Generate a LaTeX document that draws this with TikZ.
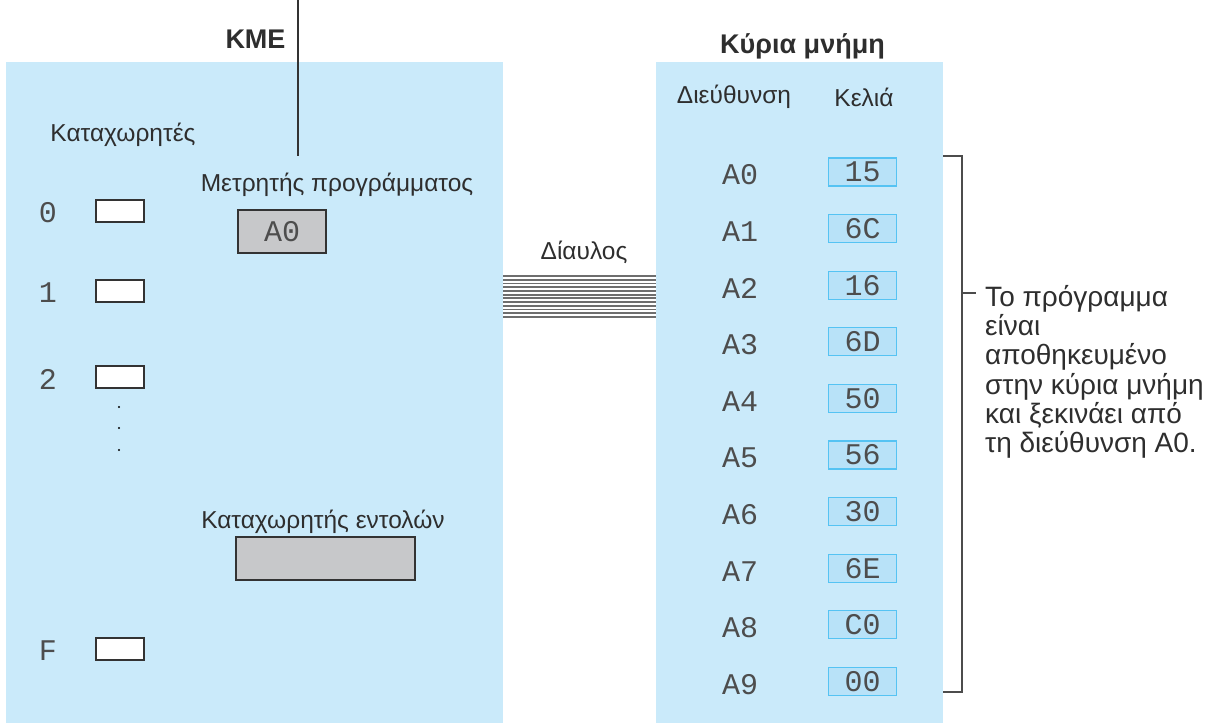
\documentclass[tikz,border=0pt]{standalone}
\usepackage{fontspec}
\setmainfont{Liberation Sans}
\newfontfamily\codefont{Liberation Mono}
\definecolor{panelblue}{HTML}{CAEAFA}
\definecolor{cellblue}{HTML}{B8E2F8}
\definecolor{cellline}{HTML}{55C3F3}
\definecolor{regfill}{HTML}{C7C8CA}
\definecolor{busgray}{HTML}{6E6E6E}
\definecolor{inkgray}{HTML}{2E2E2E}
\tikzset{
  panel/.style={fill=panelblue, draw=none, inner sep=0pt, anchor=north west},
  regbox/.style={draw=black!80, line width=1.6pt, fill=white, minimum width=48pt, minimum height=22pt, inner sep=0pt},
  grayreg/.style={draw=black!80, line width=1.6pt, fill=regfill, inner sep=0pt, text=inkgray!85},
  cell/.style={draw=cellline, line width=1.3pt, fill=cellblue, minimum width=68pt, minimum height=28pt, inner sep=0pt, text=inkgray!85, font=\codefont\fontsize{30}{30}\selectfont},
  lbl/.style={font=\fontsize{24.5}{28}\selectfont, inner sep=0pt, text=inkgray},
  heading/.style={font=\bfseries\fontsize{27}{30}\selectfont, inner sep=0pt, anchor=base, text=inkgray},
  mono/.style={font=\codefont\fontsize{30}{30}\selectfont, inner sep=0pt, text=inkgray!85},
  bracket/.style={draw=black!70, line width=1.6pt}
}
\begin{document}
\begin{tikzpicture}[x=1pt,y=-1pt]
\useasboundingbox (0,0) rectangle (1206,723);
% panels
\node[panel, minimum width=497pt, minimum height=661pt] (kme) at (6,62) {};
\node[panel, minimum width=287pt, minimum height=661pt] (mem) at (656,62) {};
\node[heading] (kmetitle) at (255.5,48) {KME};
\node[heading] (memtitle) at (802.5,53) {Κύρια μνήμη};
\coordinate (pctop) at (298,0);
\coordinate (pcbot) at (298,156);
\draw[line width=1.4pt, black!80] (pctop) -- (pcbot);

% registers
\node[lbl] (reglbl) at (123,135) {Καταχωρητές};
\foreach \r/\y in {0/211,1/291,2/377,F/649} {
  \node[mono] (rl\r) at (48,\y+2) {\r};
  \node[regbox] (reg\r) at (120,\y) {};
}
\foreach \y in {407,428,450}
  \fill (119,\y) circle (1.1pt);

\node[lbl] (pclbl) at (337,185) {Μετρητής προγράμματος};
\node[grayreg, minimum width=88pt, minimum height=43pt,
  font=\codefont\fontsize{30}{30}\selectfont] (pc) at (282,231.5) {A0};
\node[lbl] (irlbl) at (323,522) {Καταχωρητής εντολών};
\node[grayreg, minimum width=179pt, minimum height=43pt] (ir) at (325.5,558.5) {};

% bus
\node[lbl] (buslbl) at (584,252) {Δίαυλος};
\coordinate (busl) at (503,276);
\coordinate (busr) at (656,276);
\foreach \i in {0,...,11}
  \draw[busgray, line width=1.8pt] ([yshift=-\i*3.72pt]busl) -- ([yshift=-\i*3.72pt]busr);

% memory
\node[lbl] (addrhead) at (734,97) {Διεύθυνση};
\node[lbl] (cellhead) at (864,97) {Κελιά};
\foreach \a/\v [count=\i from 0] in {A0/15,A1/6C,A2/16,A3/6D,A4/50,A5/56,A6/30,A7/6E,A8/C0,A9/00} {
  \node[mono] (addr\a) at (740,175+\i*56.6) {\a};
  \node[cell] (cell\a) at (862.5,172+\i*56.6) {\v};
}

% bracket and note
\coordinate (brtop) at (943,156);
\coordinate (brbot) at (943,692);
\coordinate (brmid) at (962,293);
\coordinate (brtip) at (976,293);
\draw[bracket] (brtop) -- ++(19,0) |- (brbot);
\draw[bracket] (brmid) -- (brtip);
\node[anchor=north west, align=left, inner sep=0pt, text=inkgray, font=\fontsize{28}{29.3}\selectfont] (note) at (985,285)
  {Το πρόγραμμα\\είναι\\αποθηκευμένο\\στην κύρια μνήμη\\και ξεκινάει από\\τη διεύθυνση A0.};
\end{tikzpicture}
\end{document}
